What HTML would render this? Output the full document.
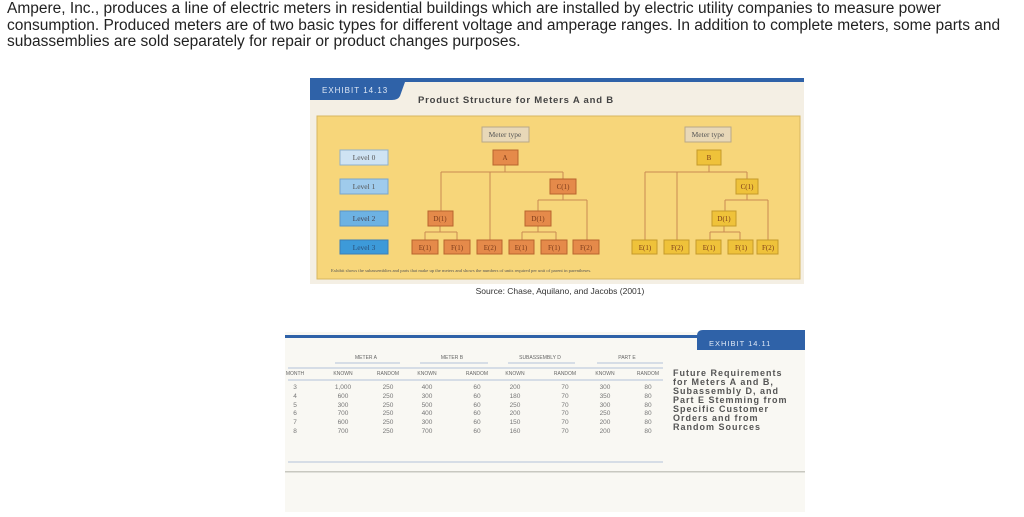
<!DOCTYPE html>
<html><head><meta charset="utf-8"><style>
body{margin:0;width:1024px;height:517px;background:#fff;position:relative;overflow:hidden;font-family:"Liberation Sans",Arial,sans-serif}
.t{position:absolute;left:7px;font-size:15.5px;color:#222;white-space:nowrap;line-height:16.5px}
svg{position:absolute;left:0;top:0}
</style></head><body>
<div class="t" style="top:1px">Ampere, Inc., produces a line of electric meters in residential buildings which are installed by electric utility companies to measure power<br>consumption. Produced meters are of two basic types for different voltage and amperage ranges. In addition to complete meters, some parts and<br>subassemblies are sold separately for repair or product changes purposes.</div>
<svg width="1024" height="517" viewBox="0 0 1024 517" font-family="Liberation Serif, serif">
<rect x="310" y="80" width="494" height="204" fill="#f4efe4"/>
<rect x="310" y="78" width="494" height="4" fill="#2f62a8"/>
<path d="M310 82 H405 L400 96 Q398 100 392 100 H310Z" fill="#2f62a8"/>
<text x="322" y="93" font-family="Liberation Sans,sans-serif" font-size="8" fill="#dfe8f5" letter-spacing="1">EXHIBIT 14.13</text>
<text x="418" y="103" font-family="Liberation Sans,sans-serif" font-size="9.5" font-weight="bold" fill="#444" letter-spacing="0.8">Product Structure for Meters A and B</text>
<rect x="317" y="116" width="483" height="163" fill="#f7d67a" stroke="#d7b760"/>
<g fill="none" stroke="#c98a52" stroke-width="1">
<path d="M505 165V172M441 172H563M441 172V211M490 172V240M563 172V179M563 194V200M538 200H587M538 200V211M587 200V240M440 226V232M425 232H457M425 232V240M457 232V240M538 226V232M522 232H556M522 232V240M556 232V240"/>
<path d="M709 165V172M645 172H747M645 172V240M677 172V240M747 172V179M747 194V200M725 200H768M725 200V211M768 200V240M724 226V232M710 232H740M710 232V240M740 232V240"/>
</g>
<g font-size="7.5" text-anchor="middle">
<rect x="340" y="150" width="48" height="15" fill="#cfe3f3" stroke="#8fb0cc"/><text x="364" y="160" fill="#555">Level 0</text>
<rect x="340" y="179" width="48" height="15" fill="#9fcbec" stroke="#7aa6cc"/><text x="364" y="189" fill="#555">Level 1</text>
<rect x="340" y="211" width="48" height="15" fill="#6db2e3" stroke="#5a94c4"/><text x="364" y="221" fill="#445">Level 2</text>
<rect x="340" y="240" width="48" height="14" fill="#3d9ad9" stroke="#3a7fb8"/><text x="364" y="250" fill="#2a4f78">Level 3</text>
<rect x="482" y="127" width="47" height="15" fill="#e8d8b8" stroke="#b9a888"/><text x="505" y="137" fill="#555">Meter type</text>
<rect x="685" y="127" width="46" height="15" fill="#e8d8b8" stroke="#b9a888"/><text x="708" y="137" fill="#555">Meter type</text>
<g fill="#e58a4a" stroke="#b8642e">
<rect x="493" y="150" width="25" height="15"/><rect x="550" y="179" width="26" height="15"/>
<rect x="428" y="211" width="25" height="15"/><rect x="525" y="211" width="26" height="15"/>
<rect x="412" y="240" width="26" height="14"/><rect x="444" y="240" width="26" height="14"/><rect x="477" y="240" width="25" height="14"/>
<rect x="509" y="240" width="25" height="14"/><rect x="541" y="240" width="26" height="14"/><rect x="573" y="240" width="26" height="14"/>
</g>
<g fill="#efc23a" stroke="#c49a2a">
<rect x="697" y="150" width="24" height="15"/><rect x="736" y="179" width="22" height="15"/><rect x="712" y="211" width="24" height="15"/>
<rect x="632" y="240" width="25" height="14"/><rect x="664" y="240" width="25" height="14"/><rect x="696" y="240" width="25" height="14"/><rect x="728" y="240" width="25" height="14"/><rect x="757" y="240" width="21" height="14"/>
</g>
<g fill="#7a3a1a" font-size="7">
<text x="505" y="160">A</text><text x="563" y="189">C(1)</text><text x="440" y="221">D(1)</text><text x="538" y="221">D(1)</text>
<text x="425" y="250">E(1)</text><text x="457" y="250">F(1)</text><text x="490" y="250">E(2)</text><text x="521" y="250">E(1)</text><text x="554" y="250">F(1)</text><text x="586" y="250">F(2)</text>
<text x="709" y="160">B</text><text x="747" y="189">C(1)</text><text x="724" y="221">D(1)</text>
<text x="645" y="250">E(1)</text><text x="677" y="250">F(2)</text><text x="709" y="250">E(1)</text><text x="741" y="250">F(1)</text><text x="768" y="250">F(2)</text>
</g>
</g>
<text x="331" y="272" font-size="4.6" fill="#555">Exhibit shows the subassemblies and parts that make up the meters and shows the numbers of units required per unit of parent in parentheses.</text>
<text x="560" y="294" text-anchor="middle" font-family="Liberation Sans,sans-serif" font-size="8.5" fill="#333">Source: Chase, Aquilano, and Jacobs (2001)</text>
<rect x="285" y="332" width="520" height="180" fill="#f9f8f3"/>
<rect x="285" y="335" width="520" height="3" fill="#2f62a8"/>
<path d="M805 330 H703 Q697 330 697 336 V350 H805Z" fill="#2f62a8"/>
<text x="709" y="346" font-family="Liberation Sans,sans-serif" font-size="7.5" fill="#dfe8f5" letter-spacing="1">EXHIBIT 14.11</text>
<g font-family="Liberation Sans,sans-serif" font-size="5" fill="#666" text-anchor="middle">
<text x="366" y="359">METER A</text><text x="452" y="359">METER B</text><text x="540" y="359">SUBASSEMBLY D</text><text x="627" y="359">PART E</text>
<g stroke="#9ab0d0" stroke-width="0.8"><path d="M335 363H400M420 363H488M508 363H575M597 363H663M288 368H663M288 462H663"/></g>
<text x="295" y="375">MONTH</text><text x="343" y="375">KNOWN</text><text x="388" y="375">RANDOM</text><text x="427" y="375">KNOWN</text><text x="477" y="375">RANDOM</text><text x="515" y="375">KNOWN</text><text x="565" y="375">RANDOM</text><text x="605" y="375">KNOWN</text><text x="648" y="375">RANDOM</text>
<g stroke="#9ab0d0" stroke-width="0.8"><path d="M288 380H663"/></g>
<g font-size="6.5" fill="#777">
<text x="295" y="389">3</text><text x="343" y="389">1,000</text><text x="388" y="389">250</text><text x="427" y="389">400</text><text x="477" y="389">60</text><text x="515" y="389">200</text><text x="565" y="389">70</text><text x="605" y="389">300</text><text x="648" y="389">80</text>
<text x="295" y="398">4</text><text x="343" y="398">600</text><text x="388" y="398">250</text><text x="427" y="398">300</text><text x="477" y="398">60</text><text x="515" y="398">180</text><text x="565" y="398">70</text><text x="605" y="398">350</text><text x="648" y="398">80</text>
<text x="295" y="407">5</text><text x="343" y="407">300</text><text x="388" y="407">250</text><text x="427" y="407">500</text><text x="477" y="407">60</text><text x="515" y="407">250</text><text x="565" y="407">70</text><text x="605" y="407">300</text><text x="648" y="407">80</text>
<text x="295" y="415">6</text><text x="343" y="415">700</text><text x="388" y="415">250</text><text x="427" y="415">400</text><text x="477" y="415">60</text><text x="515" y="415">200</text><text x="565" y="415">70</text><text x="605" y="415">250</text><text x="648" y="415">80</text>
<text x="295" y="424">7</text><text x="343" y="424">600</text><text x="388" y="424">250</text><text x="427" y="424">300</text><text x="477" y="424">60</text><text x="515" y="424">150</text><text x="565" y="424">70</text><text x="605" y="424">200</text><text x="648" y="424">80</text>
<text x="295" y="433">8</text><text x="343" y="433">700</text><text x="388" y="433">250</text><text x="427" y="433">700</text><text x="477" y="433">60</text><text x="515" y="433">160</text><text x="565" y="433">70</text><text x="605" y="433">200</text><text x="648" y="433">80</text>
</g>
</g>
<rect x="285" y="471" width="520" height="1.5" fill="#c8c8c0"/>
<g font-family="Liberation Sans,sans-serif" font-size="9" font-weight="bold" fill="#555" letter-spacing="1">
<text x="673" y="376">Future Requirements</text><text x="673" y="385">for Meters A and B,</text><text x="673" y="394">Subassembly D, and</text><text x="673" y="403">Part E Stemming from</text><text x="673" y="412">Specific Customer</text><text x="673" y="421">Orders and from</text><text x="673" y="430">Random Sources</text>
</g>
</svg>
</body></html>
